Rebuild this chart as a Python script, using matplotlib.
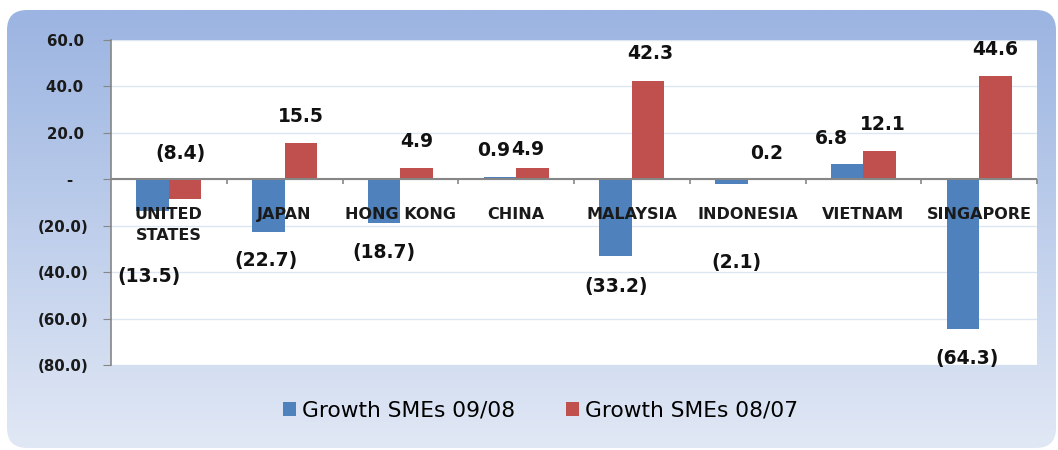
import numpy as np
import matplotlib.pyplot as plt
from matplotlib.patches import FancyBboxPatch
from matplotlib.ticker import FuncFormatter

# data
countries = ['UNITED\nSTATES', 'JAPAN', 'HONG KONG', 'CHINA', 'MALAYSIA',
             'INDONESIA', 'VIETNAM', 'SINGAPORE']
growth_0908 = [-13.5, -22.7, -18.7, 0.9, -33.2, -2.1, 6.8, -64.3]
growth_0807 = [-8.4, 15.5, 4.9, 4.9, 42.3, 0.2, 12.1, 44.6]
series_names = ['Growth SMEs 09/08', 'Growth SMEs 08/07']

# where the value labels sit (they were dragged around by hand in the original)
label_y_0908 = [-42.0, -35.1, -31.5, 12.3, -46.2, -36.0, 17.7, -77.3]
label_y_0807 = [11.0, 27.0, 16.3, 12.7, 54.0, 11.2, 23.5, 55.8]
label_dx_0908 = [-0.03, -0.02, 0.0, -0.05, 0.0, 0.04, -0.14, 0.04]
label_dx_0807 = [-0.04, 0.0, 0.0, -0.04, 0.02, 0.02, 0.03, 0.0]

blue = '#4F81BD'
red = '#C0504D'
W, H = 1058, 450


def fmt_val(v):
    if v < 0:
        return '(%.1f)' % abs(v)
    return '%.1f' % v


def fmt_tick(v, pos):
    if abs(v) < 1e-9:
        return '-   '
    if v < 0:
        return '(%.1f)' % abs(v)
    return '%.1f ' % v


fig = plt.figure(figsize=(W / 100, H / 100), dpi=100)
fig.patch.set_facecolor('white')

# blue gradient panel with rounded corners behind the chart
bg = fig.add_axes([0, 0, 1, 1], zorder=0)
bg.set_xlim(0, W)
bg.set_ylim(0, H)
bg.axis('off')
top_c = np.array([0x9B, 0xB4, 0xE1]) / 255
bot_c = np.array([0xE1, 0xE8, 0xF5]) / 255
t = np.linspace(0, 1, 256)[:, None]
grad = top_c[None, :] * (1 - t) + bot_c[None, :] * t
grad = np.repeat(grad[:, None, :], 4, axis=1)
panel = FancyBboxPatch((7, 2), 1056 - 7, 438, boxstyle='round,pad=0,rounding_size=20',
                       facecolor='none', edgecolor='none')
bg.add_patch(panel)
img = bg.imshow(grad, extent=(7, 1056, 2, 440), origin='upper', aspect='auto')
img.set_clip_path(panel)

ax = fig.add_axes([111 / W, 1 - 365 / H, (1037 - 111) / W, 325 / H], zorder=1)
ax.set_facecolor('white')

x = np.arange(len(countries))
bw = 0.28
ax.bar(x - bw / 2, growth_0908, bw, color=blue, label=series_names[0], zorder=2)
ax.bar(x + bw / 2, growth_0807, bw, color=red, label=series_names[1], zorder=2)

ax.set_xlim(-0.5, len(countries) - 0.5)
ax.set_ylim(-80, 60)
ax.set_yticks(np.arange(-80, 61, 20))
ax.yaxis.set_major_formatter(FuncFormatter(fmt_tick))
ax.tick_params(axis='y', length=6, color='#868686', pad=10,
               labelsize=10.8, labelcolor='#1a1a1a')
for lab in ax.get_yticklabels():
    lab.set_fontweight('bold')
ax.set_xticks([])
ax.grid(axis='y', color='#DCE6F2', linewidth=1, zorder=0)
ax.set_axisbelow(True)
for side in ['top', 'right', 'bottom']:
    ax.spines[side].set_visible(False)
ax.spines['left'].set_color('#868686')
ax.spines['left'].set_linewidth(1.2)

# category axis sits on zero, with little ticks between categories
ax.axhline(0, color='#868686', linewidth=1.5, zorder=3)
ax.vlines(np.arange(0.5, len(countries) + 0.5, 1.0), -2.2, 0, color='#868686',
          linewidth=1.2, zorder=3, clip_on=False)

for i, name in enumerate(countries):
    ax.annotate(name, (i, 0), xytext=(0, -20), textcoords='offset points',
                ha='center', va='top', fontsize=11.5, fontweight='bold',
                color='#1a1a1a', linespacing=1.5, zorder=4)

for i in range(len(countries)):
    ax.text(i - bw / 2 + label_dx_0908[i], label_y_0908[i], fmt_val(growth_0908[i]),
            ha='center', va='center', fontsize=13.5, fontweight='bold',
            color='#111111', zorder=5)
    ax.text(i + bw / 2 + label_dx_0807[i], label_y_0807[i], fmt_val(growth_0807[i]),
            ha='center', va='center', fontsize=13.5, fontweight='bold',
            color='#111111', zorder=5)

fig.legend(loc='center', bbox_to_anchor=(0.511, 1 - 411 / H), ncol=2, frameon=False,
           fontsize=15.7, handlelength=0.6, handleheight=0.6, handletextpad=0.3,
           columnspacing=2.3)

fig.savefig('out.png', dpi=100)
